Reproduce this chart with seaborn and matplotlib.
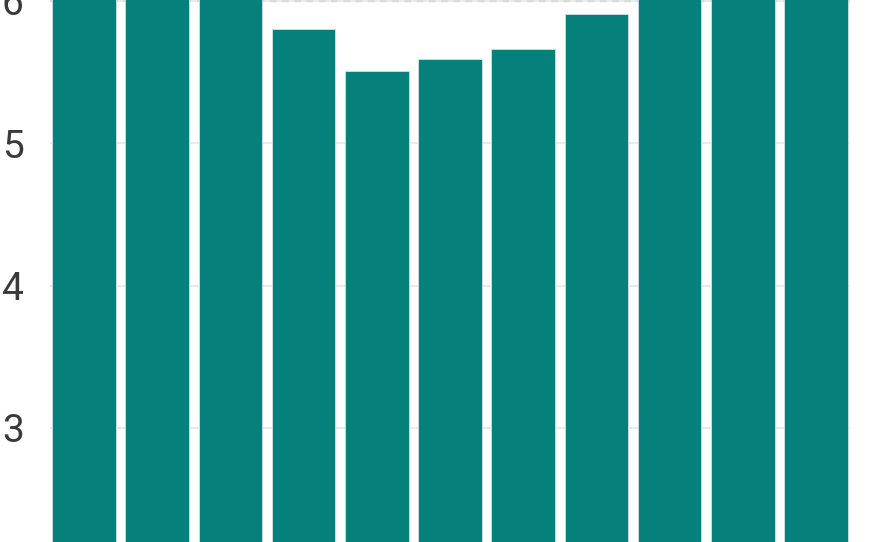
import seaborn as sns
import matplotlib.pyplot as plt
import pandas as pd

sns.set_theme(style="whitegrid")
plt.rcParams['font.family'] = ['Roboto', 'DejaVu Sans']

# Data (bars 1-3 and 9-11 run past the top, estimated)
categories = ['1', '2', '3', '4', '5', '6', '7', '8', '9', '10', '11']
values = [6.3, 6.3, 6.3, 5.80, 5.51, 5.59, 5.66, 5.91, 6.3, 6.3, 6.3]
yticks = [3, 4, 5, 6]

df = pd.DataFrame({'cat': categories, 'val': values})

fig = plt.figure(figsize=(8.8, 5.42), dpi=100)
ax = fig.add_axes([50 / 880, 0, 800 / 880, 1])

# dashed reference line at 6, sits behind the bars
ax.axhline(6, color='#a8a8a8', linestyle=(0, (3, 2.5)), linewidth=1.6, zorder=0.5)
sns.barplot(data=df, x='cat', y='val', color='#05807a', saturation=1,
            width=0.87, edgecolor='#cfe3e1', linewidth=0.6, ax=ax, zorder=2)

ax.set_ylim(2.199, 6.007)
ax.set_xlim(-0.465, 10.465)
ax.set_yticks(yticks)
ax.set_xticks([])
ax.set_xlabel('')
ax.set_ylabel('')
ax.grid(axis='y', color='#e6e6e6', linewidth=1.2)
ax.grid(axis='x', visible=False)
for s in ax.spines.values():
    s.set_visible(False)
ax.tick_params(axis='y', length=0, pad=19, labelsize=28, labelcolor='#3a3a3a')
ax.set_axisbelow(True)

fig.savefig('out.png', dpi=100)
